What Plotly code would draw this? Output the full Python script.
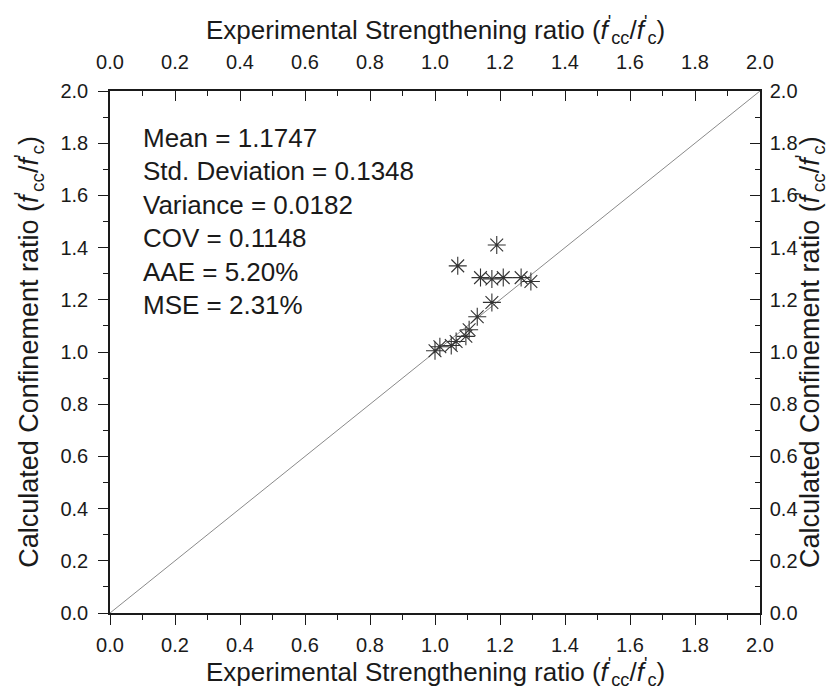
import plotly.graph_objects as go

# Experimental strengthening ratio (x) vs calculated confinement ratio (y)
exp_ratio = [1.00, 1.015, 1.05, 1.065, 1.095, 1.105, 1.13, 1.175,
             1.07, 1.14, 1.175, 1.21, 1.265, 1.295, 1.19]
calc_ratio = [1.005, 1.02, 1.025, 1.04, 1.06, 1.085, 1.135, 1.19,
              1.33, 1.285, 1.28, 1.285, 1.285, 1.27, 1.41]

line_x = [0.0, 2.0]
line_y = [0.0, 2.0]

stats_text = ["Mean = 1.1747", "Std. Deviation = 0.1348", "Variance = 0.0182",
              "COV = 0.1148", "AAE = 5.20%", "MSE = 2.31%"]
stats_y = [1.82, 1.692, 1.564, 1.436, 1.308, 1.18]

FONT = "Liberation Sans, Arial, sans-serif"
TXT = "#1a1a1a"

xtitle = "Experimental Strengthening ratio (<i>f</i><sup>'</sup><sub>cc</sub>/<i>f</i><sup>'</sup><sub>c</sub>)"
ytitle = "Calculated Confinement ratio (<i>f</i><sup>'</sup><sub>cc</sub>/<i>f</i><sup>'</sup><sub>c</sub>)"

fig = go.Figure()
fig.add_trace(go.Scatter(x=line_x, y=line_y, mode="lines",
                         line=dict(color="#8a8a8a", width=1),
                         showlegend=False, hoverinfo="skip"))
fig.add_trace(go.Scatter(x=exp_ratio, y=calc_ratio, mode="markers",
                         marker=dict(symbol="asterisk-open", size=15,
                                     color="#333333",
                                     line=dict(color="#333333", width=1.1)),
                         showlegend=False))
# invisible trace to activate the top/right axes
fig.add_trace(go.Scatter(x=line_x, y=line_y, xaxis="x2", yaxis="y2",
                         mode="markers", marker=dict(opacity=0),
                         showlegend=False, hoverinfo="skip"))


def axis_style(ticks, standoff):
    return dict(range=[0, 2], showgrid=False, zeroline=False, showline=True,
                linecolor="#1a1a1a", linewidth=1.5, ticks=ticks, ticklen=10,
                tickwidth=1.3, tickcolor="#1a1a1a", dtick=0.2, tick0=0,
                tickformat=".1f", ticklabelstandoff=standoff,
                tickfont=dict(family=FONT, size=20, color=TXT),
                minor=dict(ticks=ticks, ticklen=5, tickwidth=1.2,
                           tickcolor="#1a1a1a", dtick=0.1, showgrid=False))


fig.update_layout(
    width=837, height=694,
    margin=dict(l=102, r=85, t=83, b=89),
    paper_bgcolor="white", plot_bgcolor="white",
    xaxis=dict(**axis_style("outside", 3), side="bottom", anchor="y"),
    xaxis2=dict(**axis_style("inside", 12), side="top", overlaying="x", anchor="y"),
    yaxis=dict(**axis_style("outside", 6), side="left", anchor="x"),
    yaxis2=dict(**axis_style("inside", 4), side="right", overlaying="y", anchor="x"),
)

# axis titles (placed as annotations for precise positioning)
title_font_x = dict(family=FONT, size=26, color=TXT)
title_font_y = dict(family=FONT, size=27, color=TXT)
fig.add_annotation(text=xtitle, xref="paper", yref="paper", x=0.5, y=-0.113,
                   showarrow=False, xanchor="center", yanchor="middle",
                   font=title_font_x)
fig.add_annotation(text=xtitle, xref="paper", yref="paper", x=0.5, y=1.116,
                   showarrow=False, xanchor="center", yanchor="middle",
                   font=title_font_x)
fig.add_annotation(text=ytitle, xref="paper", yref="paper", x=-0.125, y=0.5,
                   textangle=-90, showarrow=False, xanchor="center",
                   yanchor="middle", font=title_font_y)
fig.add_annotation(text=ytitle, xref="paper", yref="paper", x=1.077, y=0.5,
                   textangle=-90, showarrow=False, xanchor="center",
                   yanchor="middle", font=title_font_y)

for t, yy in zip(stats_text, stats_y):
    fig.add_annotation(x=0.095, y=yy, xref="x", yref="y", text=t,
                       showarrow=False, xanchor="left", yanchor="middle",
                       font=dict(family=FONT, size=26, color=TXT))

fig.write_html("out.html")
